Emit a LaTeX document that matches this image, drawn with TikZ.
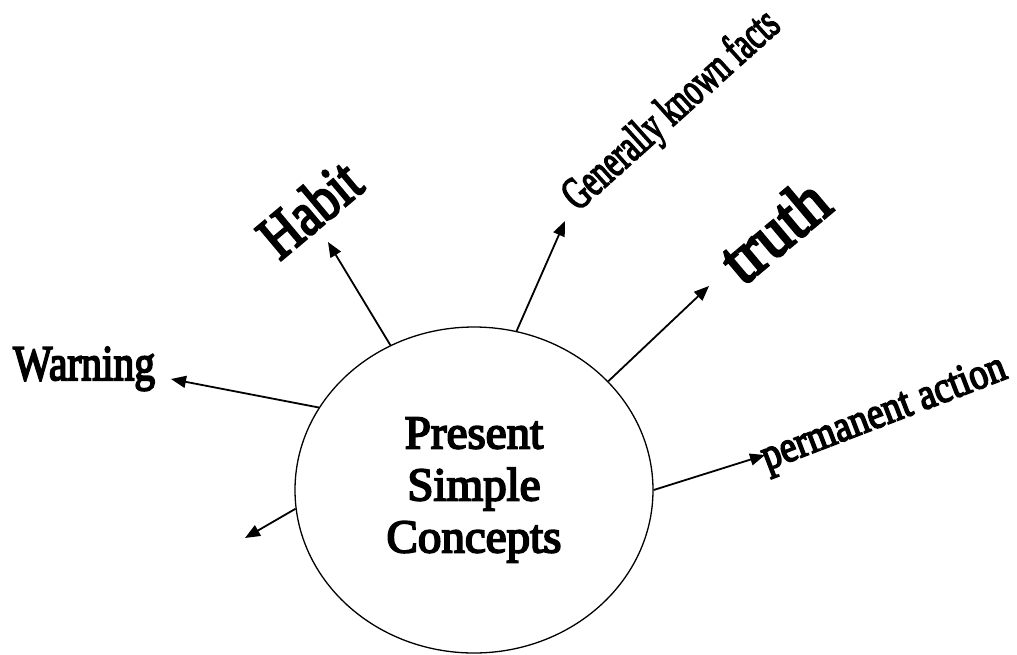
\documentclass[tikz,border=0pt]{standalone}
\usepackage{fontspec}
\setmainfont{Liberation Serif}
\newfontfamily\heavyfont{Liberation Serif}[FakeBold=4]
\usetikzlibrary{shapes.geometric,arrows.meta}

\tikzset{
  spoke/.style={-{Triangle[length=15pt,width=12pt]},line width=1.8pt},
  idea/.style={inner sep=0pt,anchor=base},
}

\begin{document}
\begin{tikzpicture}[x=1pt,y=-1pt]
  \useasboundingbox (0,0) rectangle (1017,654);
  % central ellipse
  \node[draw,ellipse,line width=1.3pt,minimum width=358pt,minimum height=326pt,
        inner sep=0pt,align=center,font=\fontsize{47}{52}\heavyfont]
        (core) at (474,490) {Present\\Simple\\Concepts};
  % labels round it
  \node[idea,anchor=base west,font=\fontsize{50}{50}\heavyfont] (warn) at (13,380) {\scalebox{0.83}[1]{Warning}};
  \node[idea,rotate=40,font=\fontsize{62}{62}\heavyfont] (habit) at (323,225) {\scalebox{0.82}[1]{Habit}};
  \node[idea,rotate=42,font=\fontsize{46}{46}\heavyfont] (facts) at (680,120) {\scalebox{0.66}[1]{Generally known facts}};
  \node[idea,rotate=40,font=\fontsize{68}{68}\heavyfont] (truth) at (789,248) {\scalebox{0.93}[1]{truth}};
  \node[idea,rotate=21,font=\fontsize{44}{44}\heavyfont] (perm) at (888,424) {\scalebox{0.85}[1]{permanent action}};
  % arrow ends
  \coordinate (warn tip) at (171,379);
  \coordinate (habit tip) at (328,242);
  \coordinate (facts tip) at (565,221);
  \coordinate (truth tip) at (709,286);
  \coordinate (perm tip) at (765,455);
  \coordinate (blank tip) at (245,538);
  % spokes
  \draw[spoke] (core.152) -- (warn tip);
  \draw[spoke] (core.186) -- (blank tip);
  \draw[spoke] (core.120) -- (habit tip);
  \draw[spoke] (core.75) -- (facts tip);
  \draw[spoke] (core.39.5) -- (truth tip);
  \draw[spoke] (core.0) -- (perm tip);
\end{tikzpicture}
\end{document}
